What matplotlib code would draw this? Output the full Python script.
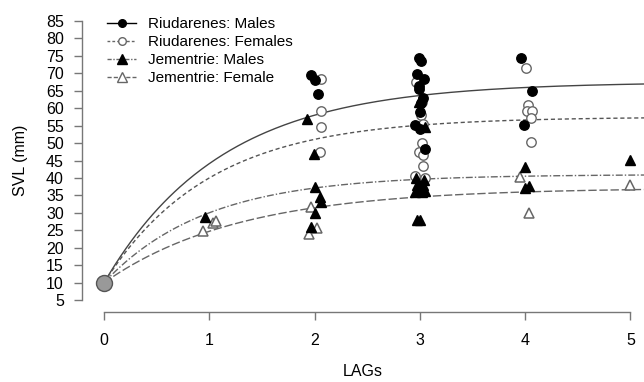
import numpy as np
import matplotlib
matplotlib.use("Agg")
import matplotlib.pyplot as plt
from matplotlib.lines import Line2D

plt.rcParams['font.family'] = ['Liberation Sans', 'DejaVu Sans']

# ---- data ----
# Riudarenes males (black circles)
rm_x = [1.97, 2.00, 2.03,
        2.99, 3.01, 2.97, 3.04, 2.99, 2.99, 3.03, 3.01, 3.00, 2.95, 3.00, 3.05,
        3.96, 4.07, 3.99]
rm_y = [69.5, 68.1, 64.1,
        74.4, 73.6, 69.8, 68.4, 66.4, 65.5, 63.0, 61.5, 59.0, 55.2, 54.0, 48.3,
        74.4, 65.0, 55.2]
# Riudarenes females (open circles)
rf_x = [2.06, 2.06, 2.06, 2.05,
        2.96, 3.02, 3.01, 3.03, 3.02, 2.99, 3.03, 3.03, 2.95, 3.05,
        4.01, 4.03, 4.02, 4.07, 4.06, 4.06]
rf_y = [68.4, 59.2, 54.6, 47.5,
        67.5, 61.8, 58.0, 55.5, 50.0, 47.5, 46.6, 43.5, 40.6, 40.0,
        71.5, 61.0, 59.2, 59.2, 57.2, 50.3]
# Jementrie males (black triangles)
jm_x = [0.96,
        1.93, 1.99, 2.00, 2.05, 2.06, 2.00, 1.97,
        2.99, 3.05, 2.96, 3.04, 2.97, 3.03, 2.99, 2.95, 3.02, 3.05, 3.01, 2.97, 3.00,
        4.00, 4.00, 4.04,
        5.00]
jm_y = [28.8,
        57.0, 47.0, 37.4, 34.6, 33.0, 30.0, 26.0,
        61.8, 54.6, 40.0, 39.5, 38.0, 38.0, 37.0, 36.0, 36.0, 36.2, 37.5, 28.0, 28.0,
        43.2, 37.2, 37.8,
        45.2]
# Jementrie females (open triangles)
jf_x = [0.94, 1.03, 1.06,
        1.97, 2.02, 1.95,
        3.95, 4.04,
        5.00]
jf_y = [24.8, 27.0, 27.8,
        31.7, 25.7, 24.0,
        40.3, 30.0,
        38.0]

# hatchling size and growth-curve parameters (asymptote, rate) per group
hatch_x, hatch_y = 0, 10
curve_linf = [67.5, 57.5, 41.0, 37.2]
curve_k = [0.90, 1.00, 1.04, 0.78]

labels = ["Riudarenes: Males", "Riudarenes: Females",
          "Jementrie: Males", "Jementrie: Female"]
x_ticks = [0, 1, 2, 3, 4, 5]
y_ticks = list(range(5, 90, 5))

# ---- figure ----
fig = plt.figure(figsize=(6.44, 3.82), dpi=100)
W, H = 644, 382
ax = fig.add_axes([82 / W, (H - 312) / H, (W - 82) / W, 312 / H])
ax.set_xlim(-0.21, 5.13)
ax.set_ylim(1.6, 91.0)

line_styles = [
    dict(color="#444444", ls="-", lw=1.0),
    dict(color="#555555", ls=(0, (3, 2)), lw=1.0),
    dict(color="#666666", ls=(0, (5, 1.5, 1, 1.5)), lw=1.0),
    dict(color="#666666", ls=(0, (6, 2)), lw=1.0),
]

t = np.linspace(0, 5.13, 300)
for linf, k, st in zip(curve_linf, curve_k, line_styles):
    ax.plot(t, linf - (linf - hatch_y) * np.exp(-k * t), zorder=2, **st)

ms_c = 6.8
ms_t = 7.6
ax.plot(rf_x, rf_y, ls="none", marker="o", ms=ms_c, mfc="white", mec="#666666", mew=1.0, zorder=3)
ax.plot(jf_x, jf_y, ls="none", marker="^", ms=ms_t, mfc="white", mec="#666666", mew=1.1, zorder=3)
ax.plot(rm_x, rm_y, ls="none", marker="o", ms=ms_c, mfc="black", mec="black", zorder=4)
ax.plot(jm_x, jm_y, ls="none", marker="^", ms=ms_t, mfc="black", mec="black", zorder=4)
ax.plot([hatch_x], [hatch_y], ls="none", marker="o", ms=11.5, mfc="#999999", mec="#555555", mew=1.0, zorder=5)

# R-style axes
for s in ["top", "right"]:
    ax.spines[s].set_visible(False)
ax.spines["left"].set_bounds(5, 85)
ax.spines["bottom"].set_bounds(0, 5)
for s in ["left", "bottom"]:
    ax.spines[s].set_color("#777777")
    ax.spines[s].set_linewidth(1.0)
ax.set_xticks(x_ticks)
ax.set_yticks(y_ticks)
ax.tick_params(axis="both", direction="out", length=6, width=1.0, color="#777777",
               labelsize=11.5, labelcolor="black")
ax.tick_params(axis="y", pad=7)
ax.tick_params(axis="x", pad=9)

ax.set_xlabel("LAGs", fontsize=11.5)
ax.xaxis.set_label_coords(0.5, -(372 - 312) / 312)
ax.xaxis.label.set_va("center")
ax.set_ylabel("SVL (mm)", fontsize=11.5)
ax.yaxis.set_label_coords((20 - 82) / 562, 1 - 160 / 312)
ax.yaxis.label.set_va("center")

handles = [
    Line2D([], [], color="black", ls="-", lw=1.0, marker="o", ms=5.5, mfc="black", mec="black"),
    Line2D([], [], color="#666666", ls=(0, (2, 1.5)), lw=1.0, marker="o", ms=5.5, mfc="white", mec="#666666"),
    Line2D([], [], color="#666666", ls=(0, (3, 1.2, 1, 1.2)), lw=1.0, marker="^", ms=6.5, mfc="black", mec="black"),
    Line2D([], [], color="#666666", ls=(0, (3, 1.5)), lw=1.0, marker="^", ms=6.5, mfc="white", mec="#666666"),
]
ax.legend(handles, labels, loc="upper left", bbox_to_anchor=((107 - 82) / 562, 1 - 17.5 / 312),
          frameon=False, fontsize=11, handlelength=1.9, handletextpad=0.8,
          labelspacing=0.26, borderpad=0, borderaxespad=0)

fig.savefig("out.png", dpi=100)
